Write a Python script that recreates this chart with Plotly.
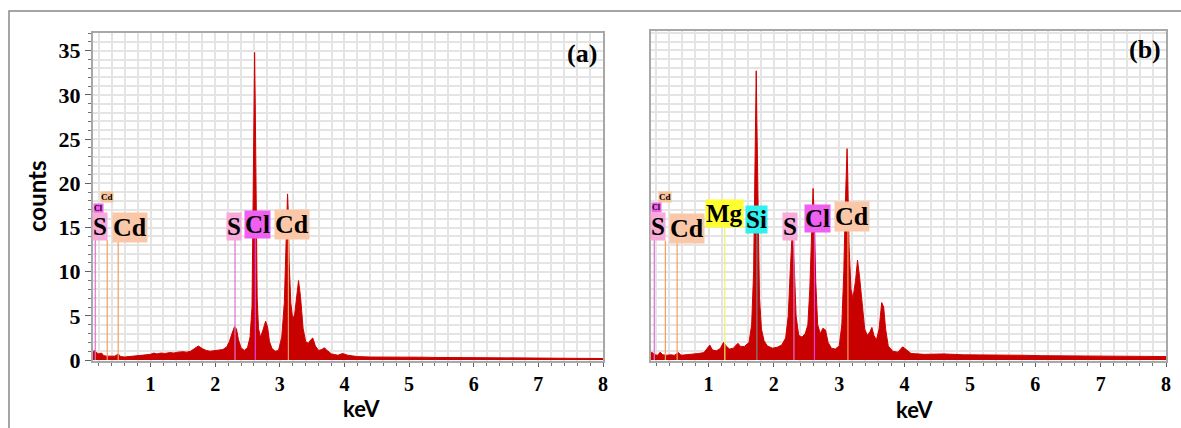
import plotly.graph_objects as go

# ---------------- data: panel (a) ----------------
kev_a = [0.11, 0.13, 0.15, 0.17, 0.20, 0.24, 0.28, 0.32, 0.36, 0.40, 0.45, 0.50, 0.54, 0.60, 0.66,
         0.72, 0.80, 0.86, 0.92, 1.00, 1.05, 1.10, 1.16, 1.22, 1.30, 1.36, 1.42, 1.50, 1.56, 1.62,
         1.68, 1.74, 1.80, 1.86, 1.92, 1.98, 2.05, 2.12, 2.18, 2.22, 2.26, 2.30, 2.33, 2.36, 2.40,
         2.45, 2.50, 2.54, 2.57, 2.585, 2.60, 2.61, 2.62, 2.635, 2.65, 2.67, 2.70, 2.74, 2.78, 2.81,
         2.84, 2.88, 2.93, 2.98, 3.03, 3.07, 3.095, 3.11, 3.12, 3.13, 3.145, 3.17, 3.20, 3.23, 3.26,
         3.29, 3.32, 3.36, 3.40, 3.44, 3.48, 3.51, 3.55, 3.60, 3.65, 3.69, 3.73, 3.80, 3.90, 3.97,
         4.05, 4.20, 4.40, 4.60, 4.80, 5.00, 5.20, 5.40, 5.60, 5.80, 6.00, 6.20, 6.40, 6.60, 6.80,
         7.00, 7.20, 7.40, 7.60, 7.80, 8.00]
counts_a = [0.8, 1.1, 0.9, 0.8, 0.7, 0.8, 0.5, 0.45, 0.45, 0.4, 0.45, 0.7, 0.4, 0.35, 0.4,
            0.45, 0.5, 0.55, 0.6, 0.65, 0.8, 0.7, 0.8, 0.75, 0.85, 0.8, 0.9, 0.95, 0.9, 1.0,
            1.3, 1.6, 1.3, 1.1, 1.0, 1.05, 1.1, 1.2, 1.5, 2.1, 3.0, 3.8, 3.5, 2.3, 1.4,
            1.1, 1.4, 2.6, 6.0, 15.0, 28.0, 34.8, 29.0, 16.0, 7.0, 3.6, 2.6, 3.4, 4.4, 3.8,
            2.1, 1.3, 1.0, 1.1, 2.6, 6.5, 12.0, 16.5, 18.8, 17.0, 11.0, 6.5, 4.6, 5.2, 7.5,
            9.0, 7.2, 3.6, 2.1, 1.9, 2.3, 2.5, 1.6, 1.1, 1.2, 1.4, 1.1, 0.7, 0.55, 0.75,
            0.55, 0.4, 0.35, 0.36, 0.32, 0.3, 0.33, 0.3, 0.32, 0.29, 0.28, 0.27, 0.26, 0.26, 0.24,
            0.24, 0.23, 0.22, 0.21, 0.2, 0.18]

# ---------------- data: panel (b) ----------------
kev_b = [0.12, 0.15, 0.18, 0.22, 0.26, 0.30, 0.36, 0.42, 0.48, 0.54, 0.58, 0.66, 0.75, 0.85, 0.93,
         0.98, 1.02, 1.06, 1.12, 1.18, 1.23, 1.27, 1.32, 1.38, 1.45, 1.49, 1.55, 1.62, 1.66, 1.69,
         1.71, 1.72, 1.73, 1.74, 1.76, 1.78, 1.81, 1.85, 1.90, 1.98, 2.05, 2.12, 2.18, 2.22, 2.25,
         2.28, 2.31, 2.34, 2.38, 2.43, 2.48, 2.52, 2.55, 2.58, 2.60, 2.62, 2.64, 2.67, 2.71, 2.75,
         2.79, 2.83, 2.88, 2.94, 3.00, 3.04, 3.07, 3.095, 3.11, 3.12, 3.13, 3.15, 3.18, 3.21, 3.25,
         3.28, 3.31, 3.35, 3.39, 3.43, 3.47, 3.50, 3.53, 3.57, 3.61, 3.65, 3.68, 3.71, 3.75, 3.82,
         3.90, 3.97, 4.02, 4.10, 4.30, 4.60, 4.90, 5.20, 5.50, 5.80, 6.10, 6.50, 6.80, 7.10, 7.40,
         7.70, 8.00]
counts_b = [0.9, 0.8, 0.6, 0.55, 0.9, 0.6, 0.55, 0.6, 0.55, 0.85, 0.55, 0.6, 0.65, 0.75, 0.85,
            1.4, 1.7, 1.15, 1.05, 1.3, 2.0, 1.6, 1.25, 1.35, 1.9, 1.55, 1.55, 2.0, 4.0, 10.0,
            20.0, 28.0, 32.7, 27.0, 14.0, 7.0, 3.5, 2.2, 1.6, 1.35, 1.45, 1.7, 2.5, 5.0, 10.0,
            14.4, 11.0, 5.0, 2.8, 2.6, 3.0, 4.0, 8.0, 15.0, 19.4, 16.0, 9.0, 4.0, 3.0, 3.6,
            3.4, 2.0, 1.35, 1.25, 1.6, 4.0, 10.0, 18.0, 22.5, 23.9, 21.0, 13.0, 8.0, 7.0, 9.0,
            11.3, 9.5, 6.0, 3.5, 2.8, 3.2, 3.7, 2.8, 2.3, 3.5, 6.5, 6.0, 3.5, 1.6, 1.0,
            0.9, 1.5, 1.2, 0.75, 0.65, 0.7, 0.6, 0.6, 0.55, 0.55, 0.5, 0.5, 0.45, 0.45, 0.45,
            0.42, 0.4]

# ---------------- element markers ----------------
lines_a_kev = [0.145, 0.33, 0.50, 2.307, 2.621, 3.133]
lines_a_top = [14.0, 13.6, 13.6, 13.6, 13.8, 13.8]
lines_a_col = ["#e070d0", "#f0a060", "#f0a060", "#e070d0", "#e040e0", "#f0a060"]

labels_a_text = ["Cd", "Cl", "S", "Cd", "S", "Cl", "Cd"]
labels_a_kev = [0.33, 0.19, 0.22, 0.69, 2.29, 2.66, 3.19]
labels_a_cnt = [18.4, 17.1, 15.1, 15.0, 15.1, 15.3, 15.3]
labels_a_size = [9, 8, 25, 26, 25, 25, 26]
labels_a_bg = ["#f7c39a", "#f060e8", "#f8aad8", "#fac8a8", "#f8aad8", "#f060f0", "#fac8a8"]

lines_b_kev = [0.17, 0.34, 0.52, 1.25, 1.74, 2.307, 2.621, 3.133]
lines_b_top = [14.0, 13.5, 13.5, 15.0, 14.4, 14.0, 14.4, 14.6]
lines_b_col = ["#e070d0", "#f0a060", "#f0a060", "#f0f060", "#808080", "#e070d0", "#e040e0", "#f0a060"]

labels_b_text = ["Cd", "Cl", "S", "Cd", "Mg", "Si", "S", "Cl", "Cd"]
labels_b_kev = [0.34, 0.20, 0.23, 0.67, 1.24, 1.73, 2.24, 2.66, 3.19]
labels_b_cnt = [18.4, 17.2, 15.1, 14.9, 16.6, 15.9, 15.1, 16.0, 16.2]
labels_b_size = [9, 8, 25, 26, 25, 25, 25, 25, 26]
labels_b_bg = ["#f7c39a", "#f060e8", "#f8aad8", "#fac8a8", "#ffff30", "#30f0f0", "#f8aad8", "#f060f0", "#fac8a8"]

x_ticks = [1, 2, 3, 4, 5, 6, 7, 8]
y_ticks = [0, 5, 10, 15, 20, 25, 30, 35]

W, H = 1181, 428
fig = go.Figure()

spec_fill = "#c80000"
spec_line = "#d00000"

fig.add_trace(go.Scatter(x=kev_a, y=counts_a, mode="lines", fill="tozeroy",
                         line=dict(color=spec_line, width=1), fillcolor=spec_fill,
                         xaxis="x", yaxis="y", showlegend=False, hoverinfo="skip"))
fig.add_trace(go.Scatter(x=kev_b, y=counts_b, mode="lines", fill="tozeroy",
                         line=dict(color=spec_line, width=1), fillcolor=spec_fill,
                         xaxis="x2", yaxis="y2", showlegend=False, hoverinfo="skip"))

for k, t, c in zip(lines_a_kev, lines_a_top, lines_a_col):
    fig.add_trace(go.Scatter(x=[k, k], y=[0, t], mode="lines", line=dict(color=c, width=1.2),
                             xaxis="x", yaxis="y", showlegend=False, hoverinfo="skip"))
for k, t, c in zip(lines_b_kev, lines_b_top, lines_b_col):
    fig.add_trace(go.Scatter(x=[k, k], y=[0, t], mode="lines", line=dict(color=c, width=1.2),
                             xaxis="x2", yaxis="y2", showlegend=False, hoverinfo="skip"))

annotations = []
for txt, k, cn, sz, bg in zip(labels_a_text, labels_a_kev, labels_a_cnt, labels_a_size, labels_a_bg):
    annotations.append(dict(x=k, y=cn, xref="x", yref="y", text=txt, showarrow=False,
                            font=dict(family="Liberation Serif", size=sz, color="black", weight="bold"),
                            bgcolor=bg, borderpad=0, xanchor="center", yanchor="middle"))
for txt, k, cn, sz, bg in zip(labels_b_text, labels_b_kev, labels_b_cnt, labels_b_size, labels_b_bg):
    annotations.append(dict(x=k, y=cn, xref="x2", yref="y2", text=txt, showarrow=False,
                            font=dict(family="Liberation Serif", size=sz, color="black", weight="bold"),
                            bgcolor=bg, borderpad=0, xanchor="center", yanchor="middle"))

# panel tags and axis titles
annotations += [
    dict(x=582 / W, y=1 - 54 / H, xref="paper", yref="paper", text="(a)", showarrow=False,
         xanchor="center", yanchor="middle",
         font=dict(family="Liberation Serif", size=26, color="black", weight="bold")),
    dict(x=1145 / W, y=1 - 49 / H, xref="paper", yref="paper", text="(b)", showarrow=False,
         xanchor="center", yanchor="middle",
         font=dict(family="Liberation Serif", size=26, color="black", weight="bold")),
    dict(x=37 / W, y=1 - 196 / H, xref="paper", yref="paper", text="counts", showarrow=False,
         textangle=-90, xanchor="center", yanchor="middle",
         font=dict(family="Lato", size=24, color="black", weight="bold")),
    dict(x=361 / W, y=1 - 408 / H, xref="paper", yref="paper", text="keV", showarrow=False,
         xanchor="center", yanchor="middle",
         font=dict(family="Lato", size=22, color="black", weight="bold")),
    dict(x=915 / W, y=1 - 409 / H, xref="paper", yref="paper", text="keV", showarrow=False,
         xanchor="center", yanchor="middle",
         font=dict(family="Lato", size=22, color="black", weight="bold")),
]

grid_col = "#e4e4e4"
frame_col = "#a8a8a8"
ytickfont = dict(family="Liberation Serif", size=22, color="black", weight="bold")
xtickfont = dict(family="Liberation Serif", size=20, color="black", weight="bold")

def xaxis_cfg(dom, rng, anchor):
    return dict(domain=dom, range=rng, anchor=anchor, tickvals=x_ticks, ticks="outside", ticklen=4,
                tickcolor="#606060", tickfont=xtickfont, showline=True, linecolor=frame_col,
                linewidth=2, mirror=True, showgrid=True, gridcolor=grid_col, gridwidth=1.5,
                zeroline=False, automargin=False,
                minor=dict(dtick=0.2, tick0=0, ticks="outside", ticklen=3, tickcolor="#707070",
                           showgrid=True, gridcolor=grid_col, gridwidth=1.5))

def yaxis_cfg(dom, rng, anchor, labels):
    return dict(domain=dom, range=rng, anchor=anchor, tickvals=y_ticks,
                ticks="outside" if labels else "", ticklen=6, tickcolor="#606060",
                showticklabels=labels, tickfont=ytickfont, showline=True, linecolor=frame_col,
                linewidth=2, mirror=True, showgrid=True, gridcolor=grid_col, gridwidth=1.5,
                zeroline=False, automargin=False,
                minor=dict(dtick=1, tick0=0, ticks="outside" if labels else "", ticklen=3,
                           tickcolor="#707070", showgrid=True, gridcolor=grid_col, gridwidth=1.5))

fig.update_layout(
    width=W, height=H, margin=dict(l=0, r=0, t=0, b=0, pad=0), autosize=False,
    paper_bgcolor="white", plot_bgcolor="white",
    xaxis=xaxis_cfg([93 / W, 603 / W], [0.11, 8.0], "y"),
    yaxis=yaxis_cfg([1 - 361 / H, 1 - 33 / H], [-0.1, 37.0], "x", True),
    xaxis2=xaxis_cfg([651 / W, 1166 / W], [0.12, 8.0], "y2"),
    yaxis2=yaxis_cfg([1 - 361 / H, 1 - 31 / H], [-0.1, 37.2], "x2", False),
    annotations=annotations,
    shapes=[dict(type="rect", xref="paper", yref="paper", x0=9 / W, x1=1.05,
                 y0=-0.05, y1=1 - 11 / H, line=dict(color="#888888", width=1.5), layer="below")],
)

fig.write_html("out.html", config={"responsive": False})
